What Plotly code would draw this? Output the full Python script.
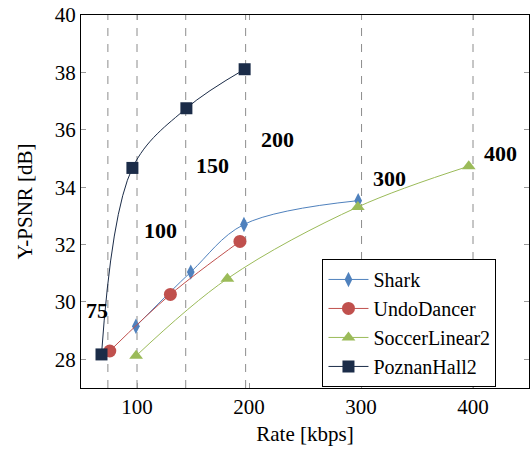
import plotly.graph_objects as go

# ---- data ----
shark_x = [99, 148, 195.5, 297.5]
shark_y = [29.15, 31.04, 32.70, 33.53]
undo_x = [75.7, 129.8, 191.9]
undo_y = [28.29, 30.26, 32.11]
soccer_x = [99.2, 180.7, 297.2, 396.2]
soccer_y = [28.12, 30.81, 33.31, 34.73]
poznan_x = [68.3, 95.9, 144.1, 196.1]
poznan_y = [28.17, 34.67, 36.75, 38.11]

ref_lines_x = [74, 100, 143.5, 197, 300.5, 400]
label_text = ["75", "100", "150", "200", "300", "400"]
label_x = [64.5, 120.7, 167.1, 225.8, 325.0, 424.3]
label_y = [29.70, 32.49, 34.76, 35.65, 34.29, 35.17]

x_ticks = [100, 200, 300, 400]
y_ticks = [28, 30, 32, 34, 36, 38, 40]

FONT = "Liberation Serif, DejaVu Serif, serif"

fig = go.Figure()

series = [
    ("Shark", shark_x, shark_y, "#4f81bd", "diamond-tall", 11),
    ("UndoDancer", undo_x, undo_y, "#c0504d", "circle", 13),
    ("SoccerLinear2", soccer_x, soccer_y, "#9bbb59", "triangle-up", 12),
    ("PoznanHall2", poznan_x, poznan_y, "#1b2c48", "square", 12),
]
for name, xs, ys, col, sym, sz in series:
    fig.add_trace(go.Scatter(
        x=xs, y=ys, name=name, mode="lines+markers",
        line=dict(color=col, width=1, shape="spline", smoothing=1.0),
        marker=dict(color=col, symbol=sym, size=sz, line=dict(width=0)),
    ))

for xv in ref_lines_x:
    fig.add_shape(type="line", x0=xv, x1=xv, y0=27, y1=40, xref="x", yref="y",
                  line=dict(color="#8c8c8c", width=1, dash="8px,8px"), layer="below")

for t, xv, yv in zip(label_text, label_x, label_y):
    fig.add_annotation(x=xv, y=yv, text="<b>%s</b>" % t, showarrow=False,
                       font=dict(family=FONT, size=22, color="black"),
                       xanchor="center", yanchor="middle")

fig.update_layout(
    width=530, height=451,
    margin=dict(l=81, r=1, t=15, b=63),
    paper_bgcolor="white", plot_bgcolor="white",
    font=dict(family=FONT, size=20, color="black"),
    showlegend=True,
    legend=dict(x=0.539, y=0.346, xanchor="left", yanchor="top",
                bordercolor="black", borderwidth=1, bgcolor="white",
                font=dict(family=FONT, size=20), tracegroupgap=0,
                itemwidth=40),
)
fig.update_xaxes(range=[50, 450], tickvals=x_ticks, ticks="inside", ticklen=5,
                 tickcolor="#999999", showline=True, linecolor="black", linewidth=1,
                 mirror="ticks", showgrid=False, zeroline=False,
                 title=dict(text="Rate [kbps]", font=dict(family=FONT, size=21), standoff=8),
                 tickfont=dict(family=FONT, size=21))
fig.update_yaxes(range=[27, 40], tickvals=y_ticks, ticks="inside", ticklen=5,
                 tickcolor="#999999", showline=True, linecolor="black", linewidth=1,
                 mirror="ticks", showgrid=False, zeroline=False,
                 title=dict(text="Y-PSNR [dB]", font=dict(family=FONT, size=21), standoff=16),
                 tickfont=dict(family=FONT, size=21))

fig.write_html("out.html")
